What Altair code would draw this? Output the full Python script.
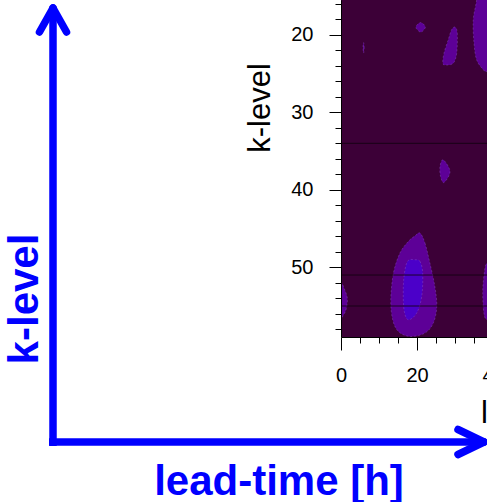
import altair as alt
import pandas as pd

# ---------------- data ----------------
# axis geometry (data units)
k_domain = [15.5, 59]          # k-level, increasing downward
h_domain = [0, 52.63]          # lead-time [h]
k_ticks = list(range(16, 59, 2))
h_ticks = list(range(0, 55, 5))

# thin horizontal model-level lines
level_lines_k = [34, 51, 55]

# contour polygons, level 1 (purple)
sliver_h = [5.95, 6.1, 5.95, 5.8]
sliver_k = [21.0, 21.6, 22.35, 21.6]
diamond_h = [20.97, 22.2, 20.97, 19.7]
diamond_k = [18.41, 19.0, 19.65, 19.0]
upper_h = [30.0, 30.6, 30.45, 29.55, 27.6, 26.8, 27.1, 28.2, 29.1]
upper_k = [19.0, 19.78, 22.36, 23.65, 23.9, 23.65, 22.36, 20.65, 19.35]
topright_h = [36.2, 35.7, 34.8, 35.0, 35.7, 37.45, 38.4, 41.0, 43.0, 42.0]
topright_k = [13.0, 15.5, 18.06, 21.07, 23.23, 24.5, 24.74, 24.5, 19.0, 13.0]
mid_h = [26.9, 28.7, 27.1, 26.2, 26.05]
mid_k = [36.13, 37.64, 39.06, 38.28, 36.99]
left_h = [-1.0, 0.0, 0.79, 1.66, 1.32, 0.18, 0.0, -1.0]
left_k = [51.5, 51.83, 52.68, 53.97, 55.48, 56.56, 56.77, 57.0]
big_h = [20.79, 22.1, 23.4, 24.7, 25.2, 24.3, 22.1, 18.16, 15.1, 13.6, 13.1, 13.8, 15.5, 17.7, 19.5]
big_k = [45.59, 46.88, 49.46, 52.48, 55.06, 57.2, 58.49, 58.93, 58.28, 56.77, 54.19, 50.75, 48.17, 46.67, 45.94]
right_h = [38.4, 37.6, 37.3, 37.6, 38.4, 41.0, 42.0, 41.0]
right_k = [49.46, 51.19, 53.33, 55.91, 56.77, 57.0, 53.0, 49.5]

# contour polygon, level 2 (blue core)
core_h = [19.47, 20.79, 21.5, 21.24, 19.92, 17.7, 16.58, 16.4, 16.84, 17.7]
core_k = [49.03, 49.25, 50.75, 53.77, 55.91, 56.77, 55.48, 52.48, 50.32, 49.12]

# colours
BG = "#3c0037"
LEV1 = "#5d0097"
LEV2 = "#4b00c9"
EDGE = "#9560cc"
BLUE = "#0000ff"
FONT = "Liberation Sans"

# ---------------- tables ----------------
def poly(name, hs, ks):
    return pd.DataFrame({"blob": name, "h": hs, "k": ks, "i": range(len(hs))})

lev1 = pd.concat([
    poly("sliver", sliver_h, sliver_k),
    poly("diamond", diamond_h, diamond_k),
    poly("upper", upper_h, upper_k),
    poly("topright", topright_h, topright_k),
    poly("mid", mid_h, mid_k),
    poly("left", left_h, left_k),
    poly("big", big_h, big_k),
    poly("right", right_h, right_k),
], ignore_index=True)
lev2 = poly("core", core_h, core_k)
lines_df = pd.DataFrame({"k": level_lines_k})

x_scale = alt.Scale(domain=h_domain, nice=False, zero=False)
y_scale = alt.Scale(domain=k_domain, nice=False, zero=False, reverse=True)

x_axis = alt.Axis(
    values=h_ticks, tickCount=len(h_ticks), format="d", title=None, grid=False, zindex=2,
    labelExpr="datum.value % 20 === 0 ? datum.label : ''",
    labelOverlap=False, labelFlush=False, labelBound=False,
    tickSize={"condition": {"test": "datum.value % 20 === 0", "value": 13}, "value": 6},
    labelPadding=15, labelFont=FONT, labelFontSize=20, labelColor="black",
    domainColor="black", tickColor="black", domainWidth=1, tickWidth=1,
)
y_axis = alt.Axis(
    values=k_ticks, tickCount=len(k_ticks), format="d", title=None, grid=False, zindex=2,
    labelExpr="datum.value % 10 === 0 ? datum.label : ''",
    labelOverlap=False, labelFlush=False, labelBound=False,
    tickSize={"condition": {"test": "datum.value % 10 === 0", "value": 12}, "value": 6},
    labelPadding=16, labelFont=FONT, labelFontSize=20, labelColor="black",
    domainColor="black", tickColor="black", domainWidth=1, tickWidth=1,
)

contour1 = alt.Chart(lev1).mark_line(
    fill=LEV1, stroke=EDGE, strokeWidth=0.6, strokeDash=[2, 2], strokeOpacity=0.6,
    interpolate="cardinal-closed", clip=True,
).encode(
    x=alt.X("h:Q", scale=x_scale, axis=x_axis),
    y=alt.Y("k:Q", scale=y_scale, axis=y_axis),
    detail="blob:N",
    order="i:Q",
)
contour2 = alt.Chart(lev2).mark_line(
    fill=LEV2, stroke=EDGE, strokeWidth=0.6, strokeDash=[2, 2], strokeOpacity=0.6,
    interpolate="cardinal-closed", clip=True,
).encode(
    x=alt.X("h:Q", scale=x_scale),
    y=alt.Y("k:Q", scale=y_scale),
    detail="blob:N",
    order="i:Q",
)
hlines = alt.Chart(lines_df).mark_rule(color="#120010", strokeWidth=1, opacity=0.85, clip=True).encode(
    y=alt.Y("k:Q", scale=y_scale),
)

# ---------------- annotations (pixel positions relative to plot origin) ----------------
one = pd.DataFrame({"a": [0]})
OX = 341  # plot origin x in page pixels

def seg(x1, y1, x2, y2, cap):
    return alt.Chart(one).mark_rule(color=BLUE, strokeWidth=7.5, strokeCap=cap).encode(
        x=alt.value(x1 - OX), x2=alt.value(x2 - OX), y=alt.value(y1), y2=alt.value(y2)
    )

arrows = [
    seg(53, 8, 53, 446, "butt"),
    seg(49, 442, 483, 442, "butt"),
    seg(39.5, 32, 53, 8, "round"),
    seg(66.5, 32, 53, 8, "round"),
    seg(458, 429.5, 484, 442, "round"),
    seg(458, 454.5, 484, 442, "round"),
]

def label(txt, x, y, size, color, weight="normal", angle=0, align="center"):
    return alt.Chart(one).mark_text(
        text=txt, font=FONT, fontSize=size, fontWeight=weight, color=color,
        angle=angle, align=align, baseline="alphabetic",
    ).encode(x=alt.value(x - OX), y=alt.value(y))

texts = [
    label("k-level", 270, 108, 31, "black", angle=270),
    label("lead-time [h]", 481, 423, 31, "black", align="left"),
    label("k-level", 38, 299, 42, BLUE, weight="bold", angle=270),
    label("lead-time [h]", 279, 495, 42, BLUE, weight="bold"),
]

chart = alt.layer(contour1, contour2, hlines, *arrows, *texts).properties(
    width=200, height=337,
    autosize=alt.AutoSizeParams(type="none"),
    padding={"left": OX, "top": 0, "right": -54, "bottom": 165},
    background="white",
).configure_view(fill=BG, strokeWidth=0)

chart.save("out.html", embed_options={"renderer": "svg", "actions": False})
